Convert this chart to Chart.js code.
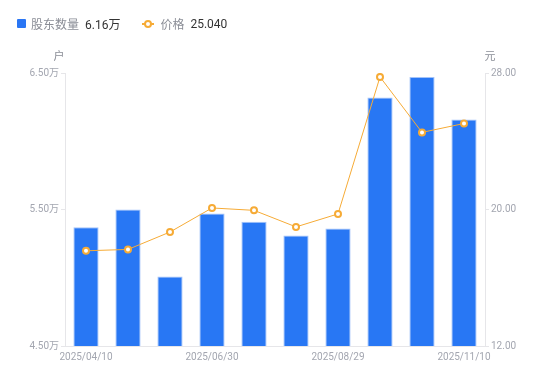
<!DOCTYPE html>
<html>
<head>
<meta charset="utf-8">
<script src="https://cdn.jsdelivr.net/npm/chart.js@4"></script>
<style>
    html, body { margin: 0; padding: 0; background: #fff; }
    #wrap { position: relative; width: 550px; height: 381px; }
    #legend {
        position: absolute; left: 17px; top: 15px;
        font-family: Roboto, "Noto Sans CJK SC", sans-serif; font-size: 12px;
        display: flex; align-items: center; color: #8a8d96;
    }
    #legend .item { display: flex; align-items: center; margin-right: 22px; }
    #legend .val { color: #333; margin-left: 6px; }
    #legend .sq { width: 9px; height: 9px; background: #2a76f4; border-radius: 1px; margin-right: 5px; }
    #legend .ln { position: relative; width: 12px; height: 2px; background: #f6ab36; margin-right: 6px; }
    #legend .ln::after {
        content: ""; position: absolute; width: 4px; height: 4px;
        border: 2px solid #f6ab36; border-radius: 50%; background: #fff; box-sizing: content-box;
        left: 2px; top: -3px;
    }
</style>
</head>
<body>
<div id="wrap">
    <canvas id="myChart" width="550" height="381"></canvas>
    <div id="legend">
        <div class="item"><span class="sq"></span>股东数量<span class="val">6.16万</span></div>
        <div class="item"><span class="ln"></span>价格<span class="val">25.040</span></div>
    </div>
</div>
<script>
// data
const dates = ['2025/04/10', '2025/04/30', '2025/05/30', '2025/06/30', '2025/07/10',
    '2025/07/31', '2025/08/29', '2025/09/30', '2025/10/20', '2025/11/10'];
const holders = [5.37, 5.50, 5.01, 5.47, 5.41, 5.31, 5.36, 6.32, 6.47, 6.16]; // 万户
const prices = [17.58, 17.66, 18.68, 20.09, 19.95, 18.98, 19.74, 27.77, 24.52, 25.04]; // 元
const leftTicks = [4.5, 5.5, 6.5];
const rightTicks = [12, 20, 28];
const shownDates = ['2025/04/10', '2025/06/30', '2025/08/29', '2025/11/10'];

const tickColor = '#a3a6b0';
const lineColor = '#e6e6e9';
const fontFamily = 'Roboto, "Noto Sans CJK SC", sans-serif';

// unit labels above the two y axes
const unitPlugin = {
    id: 'units',
    afterDraw(chart) {
        const ctx = chart.ctx;
        const area = chart.chartArea;
        ctx.save();
        ctx.font = '11px ' + fontFamily;
        ctx.fillStyle = '#8a8d96';
        ctx.textBaseline = 'middle';
        ctx.textAlign = 'center';
        ctx.fillText('户', area.left - 6, area.top - 16);
        ctx.fillText('元', area.right + 5, area.top - 16);
        ctx.restore();
    }
};

const renderChart = () => {
    const canvas = document.getElementById('myChart');
    const ctx = canvas.getContext('2d');

    window.myChart = new Chart(ctx, {
        data: {
            labels: dates,
            datasets: [{
                type: 'line',
                label: '价格',
                data: prices,
                yAxisID: 'yRight',
                borderColor: '#f6ab36',
                borderWidth: 1,
                pointRadius: 3,
                pointBorderWidth: 2,
                pointBackgroundColor: '#fff',
                pointBorderColor: '#f6ab36',
                tension: 0,
                order: 0
            }, {
                type: 'bar',
                label: '股东数量',
                data: holders,
                yAxisID: 'yLeft',
                backgroundColor: '#2877f4',
                borderColor: 'rgba(140,180,248,0.8)',
                borderWidth: { top: 1, left: 1, right: 1, bottom: 0 },
                categoryPercentage: 1,
                barPercentage: 0.6,
                order: 1
            }]
        },
        options: {
            responsive: false,
            animation: false,
            layout: { padding: { top: 73, left: 0, right: 0, bottom: 0 } },
            plugins: {
                legend: { display: false },
                tooltip: { enabled: false }
            },
            scales: {
                x: {
                    grid: { display: false, drawTicks: false },
                    border: { color: lineColor },
                    ticks: {
                        autoSkip: false,
                        maxRotation: 0,
                        padding: 5,
                        color: tickColor,
                        font: { family: fontFamily, size: 10 },
                        callback: function (val) {
                            const lab = this.getLabelForValue(val);
                            return shownDates.includes(lab) ? lab : '';
                        }
                    },
                    afterFit: s => { s.height = 35; }
                },
                yLeft: {
                    position: 'left',
                    min: 4.5,
                    max: 6.5,
                    afterBuildTicks: s => { s.ticks = leftTicks.map(v => ({ value: v })); },
                    grid: { drawOnChartArea: false, tickLength: 4, color: lineColor },
                    border: { color: lineColor },
                    ticks: {
                        padding: 2,
                        color: tickColor,
                        font: { family: fontFamily, size: 10 },
                        callback: v => v.toFixed(2) + '万'
                    },
                    afterFit: s => { s.width = 65; }
                },
                yRight: {
                    position: 'right',
                    min: 12,
                    max: 28,
                    afterBuildTicks: s => { s.ticks = rightTicks.map(v => ({ value: v })); },
                    grid: { drawOnChartArea: false, tickLength: 4, color: lineColor },
                    border: { color: lineColor },
                    ticks: {
                        padding: 2,
                        color: tickColor,
                        font: { family: fontFamily, size: 10 },
                        callback: v => v.toFixed(2)
                    },
                    afterFit: s => { s.width = 65; }
                }
            }
        },
        plugins: [unitPlugin]
    });
};

document.addEventListener('DOMContentLoaded', renderChart);
</script>
</body>
</html>
